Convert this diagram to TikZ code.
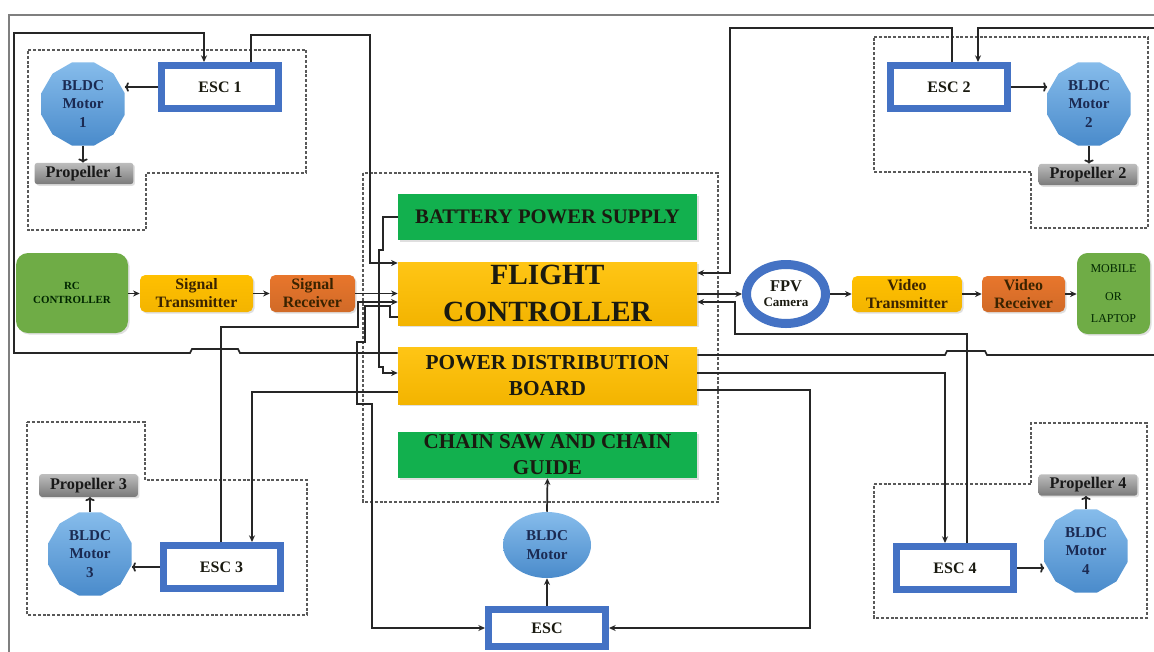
\documentclass[tikz,border=0pt]{standalone}
\usepackage{fontspec}
\setmainfont{Liberation Serif}
\usetikzlibrary{shapes.geometric,arrows.meta,shadows}
\definecolor{escblue}{HTML}{4472C4}
\definecolor{motA}{HTML}{86BCEB}
\definecolor{motB}{HTML}{4A8BCB}
\definecolor{navy}{HTML}{1B2A52}
\definecolor{propA}{HTML}{BDBDBD}
\definecolor{propB}{HTML}{7A7A7A}
\definecolor{grnA}{HTML}{12B04E}
\definecolor{rcgreen}{HTML}{6FAC46}
\definecolor{yelA}{HTML}{FFC000}
\definecolor{yelB}{HTML}{FFDB6A}
\definecolor{yelC}{HTML}{F3B400}
\definecolor{orA}{HTML}{E8762C}
\definecolor{orB}{HTML}{F39B5C}
\definecolor{framegray}{HTML}{7F7F7F}
\definecolor{darktxt}{HTML}{1A1A10}
\definecolor{browntxt}{HTML}{3A2300}
\begin{document}
\begin{tikzpicture}[x=0.75pt,y=-0.75pt,
  wire/.style={line width=1.3pt, black!85},
  arr/.style={wire, -{Stealth[length=5pt,width=4.5pt]}},
  oarr/.style={wire, -{To[length=3pt,width=7pt]}},
  region/.style={draw=black!65, line width=0.8pt, dash pattern=on 2.2pt off 1.4pt},
  shad/.style={drop shadow={opacity=0.25,shadow xshift=1.2pt,shadow yshift=-1.2pt}},
  escbox/.style={draw=escblue, line width=5.25pt, fill=white, minimum width=87.75pt,
    minimum height=32.25pt, inner sep=0pt, font=\bfseries\fontsize{12}{14}\selectfont, text=darktxt, shad},
  motor/.style={regular polygon, regular polygon sides=12, minimum size=64.5pt, inner sep=0pt,
    top color=motA, bottom color=motB, align=center, text=navy,
    font=\bfseries\fontsize{11.3}{14}\selectfont},
  prop/.style={rounded corners=2pt, minimum width=74pt, minimum height=16pt, inner sep=0pt,
    top color=propA, bottom color=propB, font=\bfseries\fontsize{12.2}{14}\selectfont, text=black!90, shad},
  bigbox/.style={minimum width=224.25pt, inner sep=0pt, align=center, text=darktxt, shad},
  greenbox/.style={bigbox, fill=grnA},
  yelbox/.style={bigbox, top color=yelA!80!yelB, bottom color=yelC},
  txbox/.style={rounded corners=4pt, inner sep=0pt, align=center, top color=yelA, middle color=yelB,
    bottom color=yelC, text=browntxt, font=\bfseries\fontsize{11.9}{13.5}\selectfont, shad},
  rxbox/.style={rounded corners=4pt, inner sep=0pt, align=center, top color=orA, middle color=orB,
    bottom color=orA!90!black, text=browntxt, font=\bfseries\fontsize{11.9}{13.5}\selectfont, shad}
]
\useasboundingbox (0,0) rectangle (1154,651);
\clip (0,0) rectangle (1154,651);
\fill[white] (0,0) rectangle (1154,651);
% outer frame
\draw[framegray, line width=1.8pt] (1160,15) -- (9,15) -- (9,660);

% dotted regions
\draw[region] (28,50) -- (306,50) -- (306,173) -- (146,173) -- (146,230) -- (28,230) -- cycle;
\draw[region] (874,37) -- (1148,37) -- (1148,228) -- (1031,228) -- (1031,172) -- (874,172) -- cycle;
\draw[region] (27,422) -- (145,422) -- (145,480) -- (307,480) -- (307,615) -- (27,615) -- cycle;
\draw[region] (874,484) -- (1031,484) -- (1031,423) -- (1147,423) -- (1147,618) -- (874,618) -- cycle;
\draw[region] (363,173) rectangle (718,502);

% central boxes
\node[greenbox, minimum height=34.5pt, font=\bfseries\fontsize{15.5}{18}\selectfont] (bat) at (547.5,217) {BATTERY POWER SUPPLY};
\node[yelbox, minimum height=47.25pt, font=\bfseries\fontsize{22}{27.5}\selectfont] (fc) at (547.5,293.5) {FLIGHT\\CONTROLLER};
\node[yelbox, minimum height=42.75pt, font=\bfseries\fontsize{16}{19.5}\selectfont] (pdb) at (547.5,375.5) {POWER DISTRIBUTION\\BOARD};
\node[greenbox, minimum height=34.5pt, font=\bfseries\fontsize{15.8}{19.5}\selectfont] (saw) at (547.5,455) {CHAIN SAW AND CHAIN\\GUIDE};

% ESCs
\node[escbox] (esc1) at (220,87) {ESC 1};
\node[escbox] (esc2) at (949,87) {ESC 2};
\node[escbox] (esc3) at (221.5,567) {ESC 3};
\node[escbox] (esc4) at (955,568) {ESC 4};
\node[escbox, minimum height=27.75pt] (esc) at (547,628) {ESC};

% motors
\node[motor] (m1) at (83,104) {BLDC\\Motor\\1};
\node[motor] (m2) at (1089,104) {BLDC\\Motor\\2};
\node[motor] (m3) at (90,554) {BLDC\\Motor\\3};
\node[motor] (m4) at (1086,551) {BLDC\\Motor\\4};
\node[ellipse, minimum width=66pt, minimum height=49.5pt, inner sep=0pt, top color=motA, bottom color=motB,
  align=center, text=navy, font=\bfseries\fontsize{11.3}{14}\selectfont] (cm) at (547,545) {BLDC\\Motor};

% propellers
\node[prop] (p1) at (84,173.5) {Propeller 1};
\node[prop] (p2) at (1088,174.5) {Propeller 2};
\node[prop, minimum height=17pt] (p3) at (88.5,485.5) {Propeller 3};
\node[prop] (p4) at (1088,485) {Propeller 4};

% signal chain
\node[rounded corners=9pt, minimum width=84pt, minimum height=60pt, inner sep=0pt, fill=rcgreen, align=center,
  text=black!85!green, font=\bfseries\fontsize{8.2}{10.5}\selectfont, shad] (rc) at (72,293) {RC\\CONTROLLER};
\node[txbox, minimum width=84.75pt, minimum height=27.75pt] (st) at (196.5,293.5) {Signal\\Transmitter};
\node[rxbox, minimum width=63.75pt, minimum height=27.75pt] (sr) at (312.5,293.5) {Signal\\Receiver};

% video chain
\node[ellipse, draw=escblue, line width=6.75pt, fill=white, minimum width=59.25pt, minimum height=44.25pt,
  inner sep=0pt, align=center, text=darktxt] (cam) at (786,294)
  {\bfseries\fontsize{12.3}{12}\selectfont FPV\\[-1pt]\bfseries\fontsize{9.8}{10}\selectfont Camera};
\node[txbox, minimum width=82.5pt, minimum height=27pt] (vt) at (907,294) {Video\\Transmitter};
\node[rxbox, minimum width=62.25pt, minimum height=27pt] (vr) at (1023.5,294) {Video\\Receiver};
\node[rounded corners=8pt, minimum width=54.75pt, minimum height=60.75pt, inner sep=0pt, fill=rcgreen, align=center,
  text=black!85!green, font=\fontsize{9}{11}\selectfont, shad] (mob) at (1113.5,293.5) {MOBILE\\[10pt]OR\\[5pt]LAPTOP};

% ESC -> motor -> propeller
\draw[oarr] (esc1.west) -- (m1.east |- esc1.west);
\draw[oarr] (esc2.east) -- (m2.west |- esc2.east);
\draw[oarr] (esc3.west) -- (m3.east |- esc3.west);
\draw[oarr] (esc4.east) -- (m4.west |- esc4.east);
\draw[oarr] (m1.south) -- (m1.south |- p1.north);
\draw[oarr] (m2.south) -- (m2.south |- p2.north);
\draw[oarr] (m3.north) -- (m3.north |- p3.south);
\draw[oarr] (m4.north) -- (m4.north |- p4.south);
\draw[arr] (esc.north) -- (cm.south);
\draw[arr] (cm.north) -- (saw.south);

% signal / video chain arrows
\draw[arr] (rc.east |- st.west) -- (st.west);
\draw[arr] (st.east) -- (sr.west);
\draw[arr] (sr.east) -- (fc.west |- sr.east);
\draw[arr] (fc.east |- cam.west) -- (cam.west);
\draw[arr] (cam.east) -- (vt.west);
\draw[arr] (vt.east) -- (vr.west);
\draw[arr] (vr.east) -- (mob.west |- vr.east);

% left wiring
\draw[arr] (pdb.west |- 0,353) -- (240,353) -- (238,349) -- (192,349) -- (190,353) -- (14,353) -- (14,33) -- (204,33) -- (204,0 |- esc1.north);
\draw[arr] (251,0 |- esc1.north) -- (251,35) -- (370,35) -- (370,263) -- (fc.west |- 0,263);
\draw[arr] (bat.west) -- (383,0 |- bat.west) -- (383,250) -- (379,250) -- (379,367) -- (383,367) -- (383,373) -- (pdb.west |- 0,373);
\draw[arr] (221,0 |- esc3.north) -- (221,327) -- (358,327) -- (358,302) -- (fc.west |- 0,302);
\draw[arr] (fc.west |- 0,317) -- (390,317) -- (390,306) -- (365,306) -- (365,342) -- (357,342) -- (357,404) -- (372,404) -- (372,628) -- (esc.west |- 0,628);
\draw[arr] (pdb.west |- 0,392) -- (252,392) -- (252,0 |- esc3.north);

% right wiring
\draw[arr] (952,0 |- esc2.north) -- (952,28) -- (730,28) -- (730,273) -- (fc.east |- 0,273);
\draw[arr] (pdb.east |- 0,355) -- (945,355) -- (947,351) -- (985,351) -- (987,355) -- (1158,355) -- (1158,28) -- (978,28) -- (978,0 |- esc2.north);
\draw[arr] (967,0 |- esc4.north) -- (967,334) -- (735,334) -- (735,302) -- (fc.east |- 0,302);
\draw[arr] (pdb.east |- 0,373) -- (945,373) -- (945,0 |- esc4.north);
\draw[arr] (pdb.east |- 0,390) -- (810,390) -- (810,628) -- (esc.east |- 0,628);
\end{tikzpicture}
\end{document}
